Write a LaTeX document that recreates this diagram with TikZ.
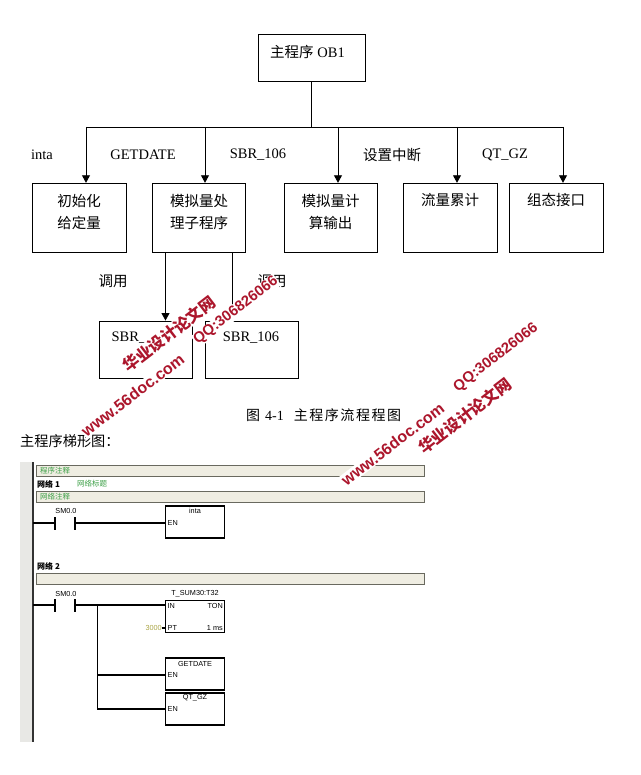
\documentclass[tikz,border=0pt]{standalone}
\usepackage{fontspec}
\usetikzlibrary{arrows.meta, positioning}
\setmainfont{Liberation Serif}
\newfontfamily\cjk{Noto Sans CJK SC}
\newfontfamily\cjkwide[LetterSpace=11]{Noto Sans CJK SC}
\newfontfamily\ladfont{Liberation Sans}
\definecolor{markred}{RGB}{172,22,44}
\definecolor{notegreen}{RGB}{62,160,72}
\definecolor{notefill}{RGB}{239,237,226}
\definecolor{noteedge}{RGB}{105,105,95}
\definecolor{stripgray}{RGB}{232,232,229}
\definecolor{constolive}{RGB}{170,165,70}
\tikzset{
    flowbox/.style={draw, line width=0.9pt, inner sep=0pt, minimum width=#1},
    flowtext/.style={inner sep=0pt, align=center, font=\fontsize{14.5}{22}\selectfont},
    flowline/.style={line width=0.9pt},
    flowarrow/.style={line width=0.9pt, -{Triangle[length=7.5pt, width=8pt]}},
    ladbox/.style={draw, line width=1.2pt, inner sep=0pt, minimum width=59pt, minimum height=#1},
    ladtext/.style={inner sep=0pt, font=\ladfont\fontsize{7.3}{8}\selectfont},
    ladline/.style={line width=1.2pt},
    notebox/.style={draw=noteedge, fill=notefill, line width=0.9pt, inner sep=0pt, minimum width=387.5pt, minimum height=11pt},
    notetext/.style={inner sep=0pt, text=notegreen, font=\cjk\fontsize{7.5}{8}\selectfont},
    nettext/.style={inner sep=0pt, anchor=west, font=\cjk\bfseries\fontsize{8}{8}\selectfont},
    marktext/.style={inner sep=0.6pt, fill=white, rotate=37.5, text=markred, font=\bfseries\ladfont\fontsize{#1}{#1}\selectfont},
}
\begin{document}
\begin{tikzpicture}[x=1pt, y=-1pt]
    \useasboundingbox (0,0) rectangle (640,775);
    % flow chart
    \node[flowbox=107pt, minimum height=47pt] (ob) at (311.5,57.5) {};
    \node[flowbox=94pt, minimum height=69.5pt] (init) at (79,218) {};
    \node[flowbox=93pt, minimum height=69.5pt] (ana) at (199,218) {};
    \node[flowbox=93pt, minimum height=69.5pt] (out) at (330.5,218) {};
    \node[flowbox=94pt, minimum height=69.5pt] (sum) at (450,218) {};
    \node[flowbox=94pt, minimum height=69.5pt] (port) at (556,218) {};
    \node[flowbox=93pt, minimum height=57pt] (sbrA) at (145.5,349.5) {};
    \node[flowbox=93pt, minimum height=57pt] (sbrB) at (251.5,349.5) {};

    \node[flowtext] (obText) at (307.5,52) {{\cjk 主程序} OB1};
    \node[flowtext, below=11pt of init.north] (initText) {\cjk 初始化\\\cjk 给定量};
    \node[flowtext, below=11pt of ana.north] (anaText) {\cjk 模拟量处\\\cjk 理子程序};
    \node[flowtext, below=11pt of out.north] (outText) {\cjk 模拟量计\\\cjk 算输出};
    \node[flowtext, below=10pt of sum.north] (sumText) {\cjk 流量累计};
    \node[flowtext, below=10pt of port.north] (portText) {\cjk 组态接口};
    \node[flowtext] (sbrAText) at (129,338) {SBR\_};
    \node[flowtext] (sbrBText) at (251,338) {SBR\_106};

    \coordinate (busL) at (86,127);
    \coordinate (busA) at (205,127);
    \coordinate (busM) at (311.5,127);
    \coordinate (busB) at (338,127);
    \coordinate (busC) at (457,127);
    \coordinate (busR) at (563,127);
    \coordinate (callA) at (165.5,252.7);
    \coordinate (callB) at (232,252.7);

    \draw[flowline] (ob.south) -- (busM);
    \draw[flowline] (busL) -- (busR);
    \draw[flowarrow] (busL) -- (busL |- init.north);
    \draw[flowarrow] (busA) -- (busA |- ana.north);
    \draw[flowarrow] (busB) -- (busB |- out.north);
    \draw[flowarrow] (busC) -- (busC |- sum.north);
    \draw[flowarrow] (busR) -- (busR |- port.north);
    \draw[flowarrow] (callA) -- (callA |- sbrA.north);
    \draw[flowline] (callB) -- (callB |- sbrB.north);

    \node[flowtext] (intaName) at (42,155) {inta};
    \node[flowtext] (dateName) at (143,155) {GETDATE};
    \node[flowtext] (sbrName) at (258,155) {SBR\_106};
    \node[flowtext] (intName) at (392,155) {\cjk 设置中断};
    \node[flowtext] (qtName) at (505,155) {QT\_GZ};
    \node[flowtext] (callAName) at (113,281) {\cjk 调用};
    \node[flowtext] (callBName) at (272,281) {\cjk 调用};

    \node[inner sep=0pt, anchor=west, font=\fontsize{14}{16}\selectfont] (caption) at (246,415) {\cjk 图\hspace{5pt}{\rmfamily 4-1}\hspace{10pt}\cjkwide 主程序流程程图};
    \node[inner sep=0pt, anchor=west, font=\cjk\fontsize{14.2}{16}\selectfont] (ladTitle) at (20,441) {主程序梯形图：};

    % ladder screenshot
    \fill[stripgray] (20,462) rectangle (33,742);
    \draw[line width=1.2pt, black!80] (33,462) -- (33,742);
    \node[notebox] (note) at (230.2,470.5) {};
    \node[notebox] (netNote) at (230.2,496.5) {};
    \node[notebox] (netTwoNote) at (230.2,578.5) {};
    \node[notetext, anchor=west] (noteText) at (40,470.5) {程序注释};
    \node[notetext, anchor=west] (netNoteText) at (40,496.5) {网络注释};
    \node[notetext, anchor=west] (netTitle) at (77,484) {网络标题};
    \node[nettext] (netOne) at (37,484) {网络 1};
    \node[nettext] (netTwo) at (37,566) {网络 2};

    % network 1
    \node[ladbox=32pt] (intaBox) at (195.2,522) {};
    \coordinate (railA) at (33,523);
    \coordinate (conAl) at (55,523);
    \coordinate (conAr) at (75,523);
    \draw[ladline] (railA) -- (conAl);
    \draw[ladline] (conAr) -- (conAr -| intaBox.west);
    \draw[ladline] ([yshift=-6.5pt]conAl) -- ([yshift=6.5pt]conAl);
    \draw[ladline] ([yshift=-6.5pt]conAr) -- ([yshift=6.5pt]conAr);
    \node[ladtext] (conAName) at (66,510.5) {SM0.0};
    \node[ladtext] (intaTitle) at (195,511) {inta};
    \node[ladtext, anchor=west] (intaEn) at (167.5,523) {EN};

    % network 2
    \node[ladbox=31.5pt] (timer) at (195.2,616.5) {};
    \node[ladbox=32pt] (dateBox) at (195.2,674) {};
    \node[ladbox=32pt] (qtBox) at (195.2,709) {};
    \coordinate (railB) at (33,605);
    \coordinate (conBl) at (55,605);
    \coordinate (conBr) at (75,605);
    \coordinate (branch) at (97.5,605);
    \coordinate (branchD) at (97.5,675);
    \coordinate (branchQ) at (97.5,709);
    \coordinate (ptPin) at (162,628);
    \draw[ladline] (railB) -- (conBl);
    \draw[ladline] (conBr) -- (conBr -| timer.west);
    \draw[ladline] ([yshift=-6.5pt]conBl) -- ([yshift=6.5pt]conBl);
    \draw[ladline] ([yshift=-6.5pt]conBr) -- ([yshift=6.5pt]conBr);
    \draw[ladline] (branch) -- (branchQ) -- (branchQ -| qtBox.west);
    \draw[ladline] (branchD) -- (branchD -| dateBox.west);
    \draw[ladline] (ptPin) -- (ptPin -| timer.west);
    \node[ladtext] (conBName) at (66,594) {SM0.0};
    \node[ladtext] (timerName) at (195,594) {T\_SUM30:T32};
    \node[ladtext, anchor=west] (timerIn) at (167.5,605.5) {IN};
    \node[ladtext, anchor=east] (timerTon) at (223,605.5) {TON};
    \node[ladtext, anchor=west] (timerPt) at (167.5,628) {PT};
    \node[ladtext, anchor=east] (timerMs) at (223,628) {1 ms};
    \node[ladtext, anchor=east, text=constolive] (timerVal) at (162,628) {3000};
    \node[ladtext] (dateTitle) at (195,663.5) {GETDATE};
    \node[ladtext, anchor=west] (dateEn) at (167.5,675) {EN};
    \node[ladtext] (qtTitle) at (195,698) {QT\_GZ};
    \node[ladtext, anchor=west] (qtEn) at (167.5,709) {EN};

    % watermarks
    \node[marktext=16] (markWebA) at (132.7,395) {www.56doc.com};
    \node[marktext=16, font=\cjk\bfseries\fontsize{16}{16}\selectfont] (markNameA) at (169,334) {华业设计论文网};
    \node[marktext=14.8] (markQqA) at (236,310.7) {QQ:306826066};
    \node[marktext=16] (markWebB) at (392.7,444) {www.56doc.com};
    \node[marktext=16, font=\cjk\bfseries\fontsize{16}{16}\selectfont] (markNameB) at (464.7,416) {华业设计论文网};
    \node[marktext=14.8] (markQqB) at (496,358) {QQ:306826066};
\end{tikzpicture}
\end{document}
